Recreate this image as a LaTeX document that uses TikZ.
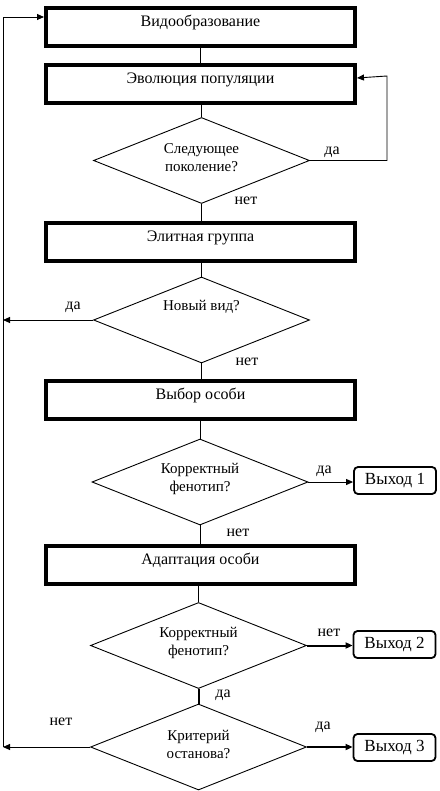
\documentclass[tikz,border=0pt]{standalone}
\usepackage{fontspec}
\setmainfont{Liberation Serif}
\usetikzlibrary{arrows.meta,shapes.geometric}
\begin{document}
\begin{tikzpicture}[x=1pt,y=-1pt,
  box/.style={draw, line width=4pt, minimum width=309pt, inner ysep=0pt,
    text height=18.5pt, text depth=19.5pt, anchor=north,
    font=\fontsize{16}{19}\selectfont},
  dia/.style={draw, diamond, line width=0.9pt, minimum width=216pt,
    minimum height=86pt, inner sep=0pt, aspect=2.5},
  dtxt/.style={align=center, inner sep=0pt, font=\fontsize{15}{18}\selectfont},
  exitbox/.style={draw, rounded corners=4pt, line width=1.8pt,
    minimum width=82pt, minimum height=27pt, inner sep=0pt,
    font=\fontsize{17}{20}\selectfont},
  lbl/.style={inner sep=0pt, font=\fontsize{16}{18}\selectfont},
  conn/.style={line width=0.9pt},
  thick conn/.style={line width=2pt},
  tip/.style={-{Triangle[length=7pt,width=6pt]}}
]
\useasboundingbox (0,0) rectangle (439,791);

% process boxes
\node[box] (b1) at (200.5,6)   {Видообразование};
\node[box] (b2) at (200.5,63)  {Эволюция популяции};
\node[box] (b3) at (200.5,221) {Элитная группа};
\node[box] (b4) at (200.5,379) {Выбор особи};
\node[box] (b5) at (200.5,544) {Адаптация особи};

% decisions
\node[dia] (d1) at (201.5,160.5) {};
\node[dtxt] (d1t) at ([yshift=3pt]d1.center) {Следующее\\поколение?};
\node[dia] (d2) at (201.5,320) {};
\node[dtxt] (d2t) at ([yshift=13pt]d2.center) {Новый вид?};
\node[dia] (d3) at (200,482) {};
\node[dtxt] (d3t) at ([yshift=3pt]d3.center) {Корректный\\фенотип?};
\node[dia] (d4) at (198.5,645.5) {};
\node[dtxt] (d4t) at ([yshift=3pt]d4.center) {Корректный\\фенотип?};
\node[dia] (d5) at (198.5,747) {};
\node[dtxt] (d5t) at ([yshift=3pt]d5.center) {Критерий\\останова?};

% exits
\node[exitbox] (e1) at (395,480.5) {Выход 1};
\node[exitbox] (e2) at (394.5,644.5) {Выход 2};
\node[exitbox] (e3) at (394.5,747.5) {Выход 3};

% main flow
\draw[conn] (b1) -- (b2);
\draw[conn] (d1.north) -- (d1.north |- b2.south);
\draw[conn] (d1.south) -- (d1.south |- b3.north);
\draw[conn] (d2.north) -- (d2.north |- b3.south);
\draw[conn] (d2.south) -- (d2.south |- b4.north);
\draw[conn] (d3.north) -- (d3.north |- b4.south);
\draw[conn] (d3.south) -- (d3.south |- b5.north);
\draw[conn] (d4.north) -- (d4.north |- b5.south);
\draw[thick conn] (d4.south) -- (d5.north);

% loop back to evolution
\coordinate (loopx) at (387,76);
\draw[conn,tip] (d1.east) -| (loopx) -- ([yshift=6pt]b2.east);

% left return line
\coordinate (lt) at (3,17);
\coordinate (lb) at (3,747);
\draw[conn,tip] (lb) -- (lt) -- (lt -| b1.west);
\draw[conn,tip] (d2.west) -- (d2.west -| lt);
\draw[conn,tip] (d5.west) -- (d5.west -| lb);

% exits
\draw[conn,tip] (d3.east) -- (d3.east -| e1.west);
\draw[thick conn,tip] (d4.east) -- (d4.east -| e2.west);
\draw[thick conn,tip] (d5.east) -- (d5.east -| e3.west);

% labels
\node[lbl] (l1) at (332,152) {да};
\node[lbl] (l2) at (246,201) {нет};
\node[lbl] (l3) at (73,307) {да};
\node[lbl] (l4) at (247,362) {нет};
\node[lbl] (l5) at (324,471) {да};
\node[lbl] (l6) at (238,533) {нет};
\node[lbl] (l7) at (329,633) {нет};
\node[lbl] (l8) at (223,695) {да};
\node[lbl] (l9) at (61,722) {нет};
\node[lbl] (l10) at (323,727) {да};
\end{tikzpicture}
\end{document}
